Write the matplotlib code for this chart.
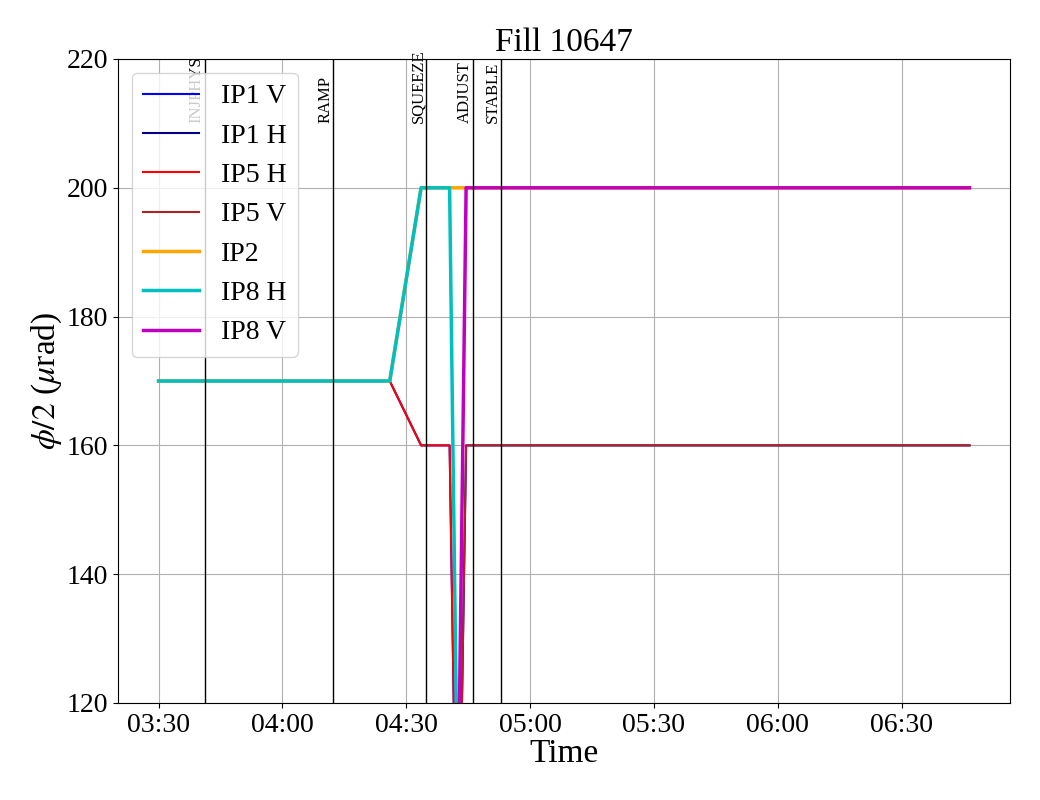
"""Crossing angle per IP during fill 10647."""

import matplotlib
matplotlib.use("Agg")
import matplotlib.dates as mdates
import matplotlib.pyplot as plt
import pandas as pd

plt.rcParams["font.family"] = ["Liberation Serif", "DejaVu Serif"]
plt.rcParams["mathtext.fontset"] = "stix"

FILL = 10647
DAY = "2024-05-20"

# sample times (HH:MM:SS) and half crossing angle per series (urad)
times = ["03:30:00", "04:26:00", "04:33:36", "04:40:30", "04:44:30", "06:46:27"]
ip1_v = [170, 170, 160, 160, 0, 0]
ip1_h = [0, 0, 0, 0, 160, 160]
ip5_h = [170, 170, 160, 160, 0, 0]
ip5_v = [0, 0, 0, 0, 160, 160]
ip2 = [170, 170, 200, 200, 200, 200]
ip8_h = [170, 170, 200, 200, 0, 0]
ip8_v = [0, 0, 0, 0, 200, 200]

# beam mode changes
modes = ["INJPHYS", "RAMP", "SQUEEZE", "ADJUST", "STABLE"]
mode_times = ["03:41:08", "04:12:16", "04:34:46", "04:46:08", "04:52:55"]

t = pd.to_datetime([f"{DAY} {x}" for x in times])
t_modes = pd.to_datetime([f"{DAY} {x}" for x in mode_times])

fig, ax = plt.subplots(figsize=(10.4, 8.0), dpi=100)
ax.plot(t, ip1_v, color="blue", lw=1.5, label="IP1 V")
ax.plot(t, ip1_h, color="darkblue", lw=1.5, label="IP1 H")
ax.plot(t, ip5_h, color="red", lw=1.5, label="IP5 H")
ax.plot(t, ip5_v, color="firebrick", lw=1.5, label="IP5 V")
ax.plot(t, ip2, color="orange", lw=2.5, label="IP2")
ax.plot(t, ip8_h, color="c", lw=2.5, label="IP8 H")
ax.plot(t, ip8_v, color="m", lw=2.5, label="IP8 V")

for name, when in zip(modes, t_modes):
    ax.axvline(when, color="black", lw=1)
    ax.text(when, 210, name, rotation=90, ha="right", va="bottom", fontsize=12)

ax.set_ylim(120, 220)
ax.xaxis.set_major_locator(mdates.MinuteLocator(byminute=[0, 30]))
ax.xaxis.set_major_formatter(mdates.DateFormatter("%H:%M"))
ax.tick_params(labelsize=20)
ax.set_xlabel("Time", fontsize=24, labelpad=0.5)
ax.set_ylabel(r"$\phi/2$ ($\mu$rad)", fontsize=24, labelpad=2)
ax.set_title(f"Fill {FILL}", fontsize=24)
ax.grid(True)
ax.legend(loc="upper left", fontsize=20)

fig.subplots_adjust(left=0.1135, right=0.9712, top=0.92625, bottom=0.12125)
fig.savefig("out.png", dpi=100)
plt.close(fig)
